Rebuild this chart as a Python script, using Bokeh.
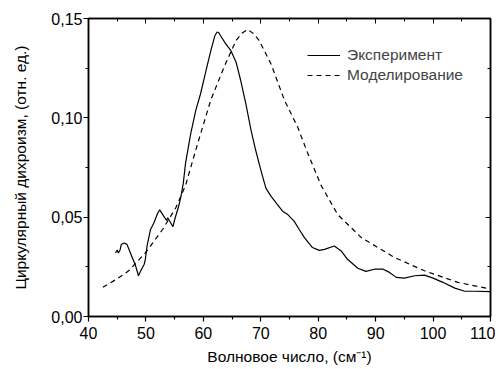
from bokeh.plotting import figure
from bokeh.models import (Range1d, FixedTicker, LinearAxis, CustomJSTickFormatter,
                          Legend, LegendItem)
from bokeh.embed import file_html
from bokeh.resources import INLINE

# Experiment (solid)
exp_x = [44.7, 45.0, 45.2, 45.5, 45.7, 46.2, 46.7, 47.3, 48.2, 48.7, 49.1, 49.7, 49.9,
         50.2, 50.8, 51.4, 52.0, 52.4, 53.1, 53.6, 53.8, 54.3, 54.7, 55.1, 55.7, 56.1,
         56.5, 56.9, 57.8, 58.7, 59.5, 60.4, 61.3, 62.0, 62.4, 62.7, 63.0, 63.9, 64.8,
         65.7, 66.5, 67.4, 68.3, 69.1, 70.0, 70.9, 71.8, 72.9, 73.8, 74.7, 75.8, 76.7,
         77.6, 79.0, 80.2, 81.1, 82.8, 84.0, 85.1, 86.9, 88.3, 89.8, 91.3, 92.4, 93.6,
         95.0, 96.8, 98.5, 100.0, 101.7, 103.8, 105.5, 107.2, 110.0]
exp_y = [0.0320, 0.0335, 0.0320, 0.0335, 0.0362, 0.0370, 0.0363, 0.0320, 0.0255, 0.0205,
         0.0230, 0.0263, 0.0288, 0.0355, 0.0438, 0.0472, 0.0517, 0.0537, 0.0505, 0.0483,
         0.0497, 0.0472, 0.0452, 0.0497, 0.0555, 0.0605, 0.0670, 0.0772, 0.0920, 0.1040,
         0.1120, 0.1230, 0.1338, 0.1413, 0.1432, 0.1428, 0.1413, 0.1372, 0.1338, 0.1280,
         0.1188, 0.1070, 0.0938, 0.0838, 0.0738, 0.0645, 0.0605, 0.0563, 0.0530, 0.0513,
         0.0480, 0.0438, 0.0397, 0.0347, 0.0333, 0.0338, 0.0355, 0.0330, 0.0288, 0.0243,
         0.0227, 0.0238, 0.0238, 0.0222, 0.0197, 0.0193, 0.0205, 0.0208, 0.0193, 0.0172,
         0.0143, 0.0127, 0.0127, 0.0125]

# Model (dashed)
mod_x = [42.5, 45.0, 47.0, 49.9, 52.9, 55.2, 56.9, 59.0, 61.3, 63.6, 65.7, 66.7, 67.7,
         68.7, 69.7, 71.8, 74.1, 76.4, 78.2, 80.5, 83.4, 87.5, 93.3, 98.5, 104.3, 110.0]
mod_y = [0.0147, 0.0190, 0.0230, 0.0320, 0.0438, 0.0547, 0.0660, 0.0870, 0.1090, 0.1255,
         0.1390, 0.1425, 0.1445, 0.1425, 0.1390, 0.1270, 0.1090, 0.0955, 0.0820, 0.0660,
         0.0513, 0.0397, 0.0297, 0.0230, 0.0172, 0.0138]

x_ticks = [40, 50, 60, 70, 80, 90, 100, 110]
x_minor = [45, 55, 65, 75, 85, 95, 105]
y_ticks = [0.0, 0.05, 0.10, 0.15]
y_minor = [0.025, 0.075, 0.125]

series_names = ["Эксперимент", "Моделирование"]
x_label = "Волновое число, (см⁻¹)"
y_label = "Циркулярный дихроизм, (отн. ед.)"

FONT = "Liberation Sans"

p = figure(width=495, height=369, output_backend="svg", toolbar_location=None,
           x_range=Range1d(40, 110), y_range=Range1d(0, 0.15),
           min_border_left=88, min_border_right=5, min_border_top=18, min_border_bottom=53)
p.background_fill_color = "white"
p.border_fill_color = "white"
p.outline_line_color = "black"
p.outline_line_width = 1.5
p.grid.visible = False

xt = FixedTicker(ticks=x_ticks, minor_ticks=x_minor)
yt = FixedTicker(ticks=y_ticks, minor_ticks=y_minor)
yfmt = CustomJSTickFormatter(code="return tick.toFixed(2).replace('.', ',');")
blank = CustomJSTickFormatter(code="return '';")

for ax in p.xaxis:
    ax.ticker = xt
    ax.axis_label = x_label
for ax in p.yaxis:
    ax.ticker = yt
    ax.formatter = yfmt
    ax.axis_label = y_label

for ax in list(p.xaxis) + list(p.yaxis):
    ax.axis_line_width = 1.5
    ax.major_tick_line_width = 1.2
    ax.minor_tick_line_width = 1.2
    ax.major_tick_out = 5
    ax.major_tick_in = 0
    ax.minor_tick_out = 3
    ax.minor_tick_in = 0
    ax.major_label_text_font = FONT
    ax.major_label_text_font_size = "16px"
    ax.major_label_text_color = "black"
    ax.axis_label_text_font = FONT
    ax.axis_label_text_font_size = "15.5px"
    ax.axis_label_text_font_style = "normal"
    ax.axis_label_text_color = "black"

p.xaxis.major_label_standoff = 5
p.xaxis.axis_label_standoff = 6
p.yaxis.major_label_standoff = 1
p.yaxis.axis_label_standoff = 19

top = LinearAxis(ticker=xt, formatter=blank, major_tick_in=5, major_tick_out=0,
                 minor_tick_in=3, minor_tick_out=0, axis_line_width=1.5,
                 major_label_standoff=0)
right = LinearAxis(ticker=yt, formatter=blank, major_tick_in=5, major_tick_out=0,
                   minor_tick_in=3, minor_tick_out=0, axis_line_width=1.5,
                   major_label_standoff=0)
p.add_layout(top, "above")
p.add_layout(right, "right")

r1 = p.line(exp_x, exp_y, line_color="black", line_width=1.2)
r2 = p.line(mod_x, mod_y, line_color="black", line_width=1.2, line_dash="5 4")

legend = Legend(items=[LegendItem(label=series_names[0], renderers=[r1]),
                       LegendItem(label=series_names[1], renderers=[r2])],
                location="top_right", margin=27, padding=0, spacing=0,
                glyph_width=33, glyph_height=20, label_height=20, label_standoff=7,
                label_text_font=FONT, label_text_font_size="15.5px",
                border_line_color=None, background_fill_alpha=0)
p.add_layout(legend)

open("out.html", "w").write(file_html(p, INLINE))
